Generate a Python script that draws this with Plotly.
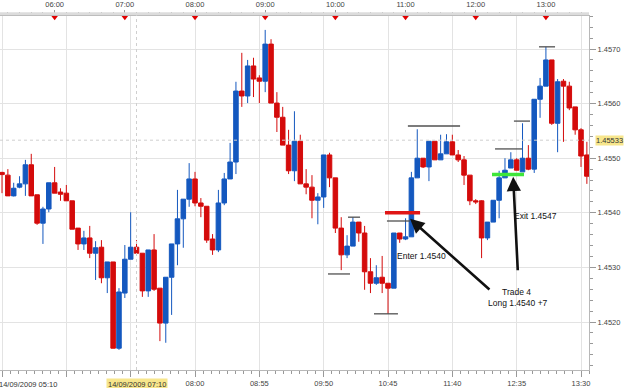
import plotly.graph_objects as go
import pandas as pd

# ---------------- data ----------------
times = pd.date_range("2009-09-14 05:15", "2009-09-14 13:35", freq="5min")

open_ = [1.45474, 1.45469, 1.45431, 1.45447, 1.45453, 1.45488, 1.45433, 1.45381, 1.45407, 1.45455,
         1.45438, 1.45436, 1.45422, 1.45372, 1.45343, 1.45354, 1.45326, 1.45337, 1.45281, 1.45310,
         1.45152, 1.45253, 1.45315, 1.45337, 1.45326, 1.45257, 1.45332, 1.45262, 1.45198, 1.45282,
         1.45343, 1.45389, 1.45425, 1.45462, 1.45418, 1.45412, 1.45352, 1.45332, 1.45418, 1.45462,
         1.45493, 1.45623, 1.45614, 1.45669, 1.45647, 1.45641, 1.45709, 1.45601, 1.45575, 1.45524,
         1.45477, 1.45531, 1.45453, 1.45447, 1.45423, 1.45429, 1.45506, 1.45464, 1.45372, 1.45323,
         1.45339, 1.45383, 1.45363, 1.45292, 1.45271, 1.45282, 1.45271, 1.45262, 1.45363, 1.45352,
         1.45356, 1.45464, 1.45500, 1.45484, 1.45531, 1.45497, 1.45508, 1.45530, 1.45506, 1.45497,
         1.45469, 1.45422, 1.45422, 1.45354, 1.45383, 1.45423, 1.45464, 1.45482, 1.45497, 1.45475,
         1.45500, 1.45480, 1.45608, 1.45632, 1.45680, 1.45564, 1.45641, 1.45632, 1.45594, 1.45552,
         1.45506]

high = [1.45475, 1.45480, 1.45455, 1.45467, 1.45497, 1.45508, 1.45433, 1.45411, 1.45455, 1.45484,
        1.45445, 1.45451, 1.45422, 1.45372, 1.45367, 1.45376, 1.45348, 1.45350, 1.45310, 1.45310,
        1.45262, 1.45341, 1.45401, 1.45350, 1.45326, 1.45332, 1.45361, 1.45262, 1.45282, 1.45343,
        1.45442, 1.45425, 1.45491, 1.45475, 1.45427, 1.45412, 1.45361, 1.45442, 1.45473, 1.45528,
        1.45640, 1.45693, 1.45680, 1.45684, 1.45652, 1.45735, 1.45718, 1.45621, 1.45594, 1.45552,
        1.45586, 1.45543, 1.45480, 1.45469, 1.45436, 1.45506, 1.45510, 1.45464, 1.45392, 1.45359,
        1.45392, 1.45383, 1.45376, 1.45317, 1.45304, 1.45321, 1.45271, 1.45363, 1.45363, 1.45390,
        1.45475, 1.45553, 1.45500, 1.45531, 1.45531, 1.45543, 1.45544, 1.45543, 1.45515, 1.45504,
        1.45469, 1.45425, 1.45423, 1.45383, 1.45423, 1.45477, 1.45500, 1.45511, 1.45500, 1.45564,
        1.45524, 1.45608, 1.45647, 1.45704, 1.45680, 1.45645, 1.45645, 1.45640, 1.45594, 1.45555,
        1.45530]

low = [1.45436, 1.45431, 1.45430, 1.45445, 1.45431, 1.45431, 1.45378, 1.45343, 1.45401, 1.45436,
       1.45422, 1.45422, 1.45370, 1.45332, 1.45332, 1.45317, 1.45277, 1.45271, 1.45253, 1.45152,
       1.45149, 1.45244, 1.45315, 1.45323, 1.45246, 1.45246, 1.45257, 1.45165, 1.45162, 1.45213,
       1.45304, 1.45336, 1.45411, 1.45412, 1.45392, 1.45345, 1.45323, 1.45328, 1.45414, 1.45462,
       1.45471, 1.45594, 1.45601, 1.45612, 1.45601, 1.45621, 1.45601, 1.45548, 1.45524, 1.45471,
       1.45458, 1.45453, 1.45434, 1.45390, 1.45379, 1.45409, 1.45447, 1.45363, 1.45295, 1.45317,
       1.45339, 1.45347, 1.45259, 1.45253, 1.45268, 1.45253, 1.45215, 1.45262, 1.45345, 1.45350,
       1.45356, 1.45464, 1.45482, 1.45458, 1.45497, 1.45497, 1.45508, 1.45506, 1.45493, 1.45451,
       1.45414, 1.45416, 1.45317, 1.45350, 1.45383, 1.45390, 1.45464, 1.45482, 1.45478, 1.45475,
       1.45478, 1.45473, 1.45574, 1.45632, 1.45561, 1.45511, 1.45530, 1.45588, 1.45543, 1.45484,
       1.45453]

close = [1.45470, 1.45431, 1.45445, 1.45453, 1.45488, 1.45431, 1.45381, 1.45407, 1.45455, 1.45436,
         1.45434, 1.45422, 1.45370, 1.45343, 1.45354, 1.45326, 1.45336, 1.45281, 1.45310, 1.45152,
         1.45255, 1.45315, 1.45337, 1.45326, 1.45257, 1.45332, 1.45260, 1.45198, 1.45282, 1.45343,
         1.45389, 1.45425, 1.45462, 1.45418, 1.45412, 1.45350, 1.45332, 1.45418, 1.45462, 1.45493,
         1.45623, 1.45614, 1.45669, 1.45645, 1.45641, 1.45709, 1.45601, 1.45575, 1.45524, 1.45477,
         1.45531, 1.45453, 1.45447, 1.45423, 1.45429, 1.45506, 1.45464, 1.45372, 1.45323, 1.45339,
         1.45383, 1.45363, 1.45292, 1.45271, 1.45281, 1.45271, 1.45262, 1.45363, 1.45352, 1.45356,
         1.45464, 1.45500, 1.45484, 1.45531, 1.45497, 1.45508, 1.45530, 1.45506, 1.45497, 1.45469,
         1.45422, 1.45420, 1.45354, 1.45383, 1.45423, 1.45464, 1.45478, 1.45497, 1.45478, 1.45500,
         1.45480, 1.45608, 1.45632, 1.45680, 1.45564, 1.45640, 1.45632, 1.45592, 1.45552, 1.45504,
         1.45467]

# bottom axis ticks (every 55 min) and their labels
bottom_ticks = pd.date_range("2009-09-14 05:15", "2009-09-14 13:30", freq="55min")
bottom_labels = ["", "", "", "08:00", "08:55", "09:50", "10:45", "11:40", "12:35", "13:30"]
# top axis hour ticks
hour_ticks = pd.date_range("2009-09-14 06:00", "2009-09-14 13:00", freq="60min")
hour_labels = [t.strftime("%H:%M") for t in hour_ticks]

price_ticks = [1.4520, 1.4530, 1.4540, 1.4550, 1.4560, 1.4570]

# high / low marker segments (start, end, price)
mark_start = ["09:53:42", "10:33:00", "11:02:00", "12:16:30", "12:32:40", "12:54:06", "10:10:48", "10:44:06"]
mark_end = ["10:12:30", "10:53:30", "11:46:36", "12:39:36", "12:46:24", "13:07:48", "10:21:06", "11:03:48"]
mark_price = [1.45288, 1.45215, 1.45559, 1.45517, 1.45568, 1.45704, 1.45392, 1.45385]

entry_price = 1.4540
entry_span = ["10:42:25", "11:12:25"]
exit_price = 1.4547
exit_span = ["12:13:55", "12:41:17"]

cursor_time = "2009-09-14 07:10"
cursor_price = 1.45533

day = "2009-09-14 "

# ---------------- figure ----------------
fig = go.Figure()

fig.add_trace(go.Candlestick(
    x=times, open=open_, high=high, low=low, close=close,
    increasing=dict(line=dict(color="#1458bf", width=1), fillcolor="#1458bf"),
    decreasing=dict(line=dict(color="#d40b0b", width=1), fillcolor="#d40b0b"),
    whiskerwidth=0, showlegend=False, hoverinfo="skip",
))

# red hour markers on top axis
fig.add_trace(go.Scatter(
    x=hour_ticks, y=[1.45759] * len(hour_ticks), xaxis="x2", yaxis="y",
    mode="markers", marker=dict(symbol="triangle-down", size=7, color="#e00000"),
    cliponaxis=False, showlegend=False, hoverinfo="skip",
))

shapes = []
# crosshair
shapes.append(dict(type="line", xref="x", yref="paper", x0=cursor_time, x1=cursor_time, y0=0, y1=1,
                   line=dict(color="#cfcfcf", width=1, dash="dot")))
shapes.append(dict(type="line", xref="paper", yref="y", x0=0, x1=1, y0=cursor_price, y1=cursor_price,
                   line=dict(color="#cfcfcf", width=1, dash="dot")))
# marker segments
for s, e, p in zip(mark_start, mark_end, mark_price):
    shapes.append(dict(type="line", xref="x", yref="y", x0=day + s, x1=day + e, y0=p, y1=p,
                       line=dict(color="#505050", width=1.3)))
# entry / exit lines
shapes.append(dict(type="line", xref="x", yref="y", x0=day + entry_span[0], x1=day + entry_span[1],
                   y0=entry_price, y1=entry_price, line=dict(color="#e01515", width=3.5)))
shapes.append(dict(type="line", xref="x", yref="y", x0=day + exit_span[0], x1=day + exit_span[1],
                   y0=exit_price, y1=exit_price, line=dict(color="#3ee63a", width=3.5)))
# gray band under top axis
shapes.append(dict(type="rect", xref="paper", yref="paper", x0=0, x1=1, y0=1.0, y1=1.008,
                   line=dict(width=0), fillcolor="#dcdcdc"))

txt_font = dict(family="Liberation Sans, Arial", size=8.5, color="#111111")
annotations = [
    dict(x=day + "11:03:50", y=1.45389, ax=day + "12:13:00", ay=1.45257, xref="x", yref="y",
         axref="x", ayref="y", text="", showarrow=True, arrowhead=2, arrowsize=1.1,
         arrowwidth=2.6, arrowcolor="#111111", standoff=0),
    dict(x=day + "12:32:00", y=1.45466, ax=day + "12:36:00", ay=1.45292, xref="x", yref="y",
         axref="x", ayref="y", text="", showarrow=True, arrowhead=2, arrowsize=1.1,
         arrowwidth=2.6, arrowcolor="#111111", standoff=0),
    dict(x=day + "11:14:00", y=1.45321, text="Enter 1.4540", showarrow=False, font=txt_font),
    dict(x=day + "12:51:30", y=1.45394, text="Exit 1.4547", showarrow=False, font=txt_font),
    dict(x=day + "12:34:30", y=1.45255, text="Trade 4", showarrow=False, font=txt_font),
    dict(x=day + "12:36:00", y=1.45235, text="Long 1.4540 +7", showarrow=False, font=txt_font),
    # current price label
    dict(x=1, xref="paper", y=cursor_price, yref="y", xanchor="left", xshift=6,
         text="1.45533", showarrow=False, bgcolor="#f7e68c", borderpad=0,
         font=dict(family="Liberation Sans, Arial", size=7.5, color="#333333")),
    # cursor time label
    dict(x=cursor_time, xref="x", y=0, yref="paper", yanchor="top", yshift=-8,
         text="14/09/2009 07:10", showarrow=False, bgcolor="#f7e68c", borderpad=1,
         font=dict(family="Liberation Sans, Arial", size=7.5, color="#333333")),
    # first date label
    dict(x=0, xref="paper", y=0, yref="paper", xanchor="left", yanchor="top", xshift=-3, yshift=-8,
         text="14/09/2009 05:10", showarrow=False, borderpad=1,
         font=dict(family="Liberation Sans, Arial", size=7.5, color="#333333")),
]

axis_font = dict(family="Liberation Sans, Arial", size=7.5, color="#444444")
x_range = ["2009-09-14 05:13:17", "2009-09-14 13:36:50"]

fig.update_layout(
    width=625, height=388,
    margin=dict(l=0, r=36, t=15, b=18, autoexpand=False),
    paper_bgcolor="white", plot_bgcolor="white",
    boxgap=0.12, boxgroupgap=0.12,
    shapes=shapes, annotations=annotations,
    xaxis=dict(
        type="date", range=x_range, rangeslider=dict(visible=False),
        tickmode="array", tickvals=bottom_ticks, ticktext=bottom_labels,
        showgrid=True, gridcolor="#e3e3e3", gridwidth=1,
        showline=True, linecolor="#b8b8b8", linewidth=1,
        ticks="outside", ticklen=6, tickcolor="#999999",
        minor=dict(tickmode="linear", tick0="2009-09-14 05:15", dtick=412500,
                   ticklen=3, tickcolor="#999999", showgrid=False),
        tickfont=axis_font, zeroline=False, fixedrange=True, automargin=False,
    ),
    xaxis2=dict(
        type="date", overlaying="x", side="top", anchor="free", position=1, matches="x",
        range=x_range, tickmode="array", tickvals=hour_ticks, ticktext=hour_labels,
        showgrid=False, showline=True, linecolor="#bdbdbd", linewidth=1,
        ticks="outside", ticklen=5, tickcolor="#999999", ticklabelstandoff=0,
        minor=dict(tickmode="linear", tick0="2009-09-14 06:00", dtick=600000,
                   ticklen=3, tickcolor="#999999"),
        tickfont=axis_font, automargin=False,
    ),
    yaxis=dict(
        side="right", range=[1.451121, 1.457623],
        tickmode="array", tickvals=price_ticks, ticktext=[f"{v:.4f}" for v in price_ticks],
        showgrid=True, gridcolor="#e3e3e3", gridwidth=1,
        showline=True, linecolor="#b8b8b8", linewidth=1,
        ticks="outside", ticklen=6, tickcolor="#999999",
        minor=dict(tickmode="linear", tick0=1.4520, dtick=0.0002, ticklen=3,
                   tickcolor="#999999", showgrid=False),
        tickfont=axis_font, zeroline=False, fixedrange=True, automargin=False,
    ),
)

fig.write_html("out.html")
